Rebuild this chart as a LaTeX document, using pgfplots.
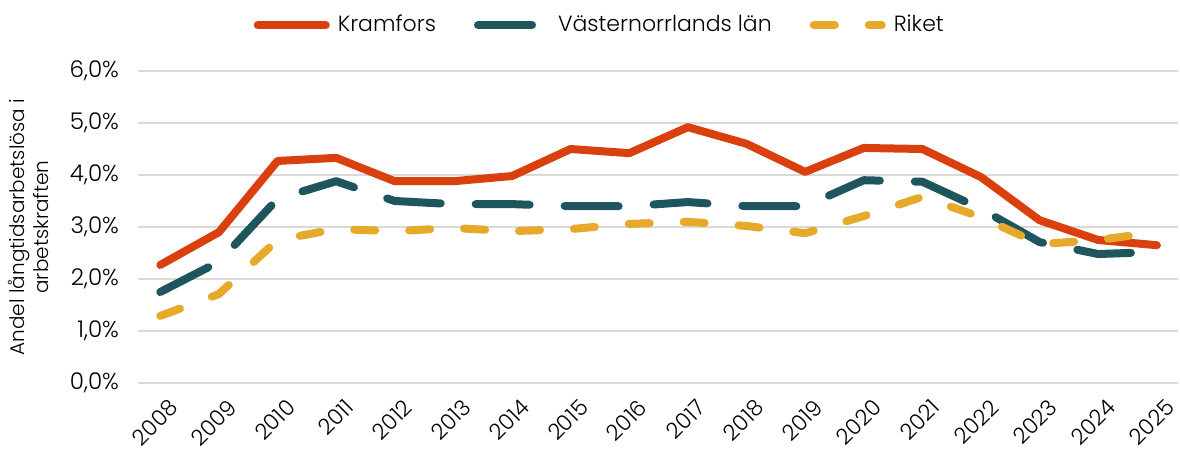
\documentclass[border=0pt]{standalone}
\usepackage{pgfplots}
\pgfplotsset{compat=1.18}
\usepackage{fontspec}
\setmainfont{Poppins}[UprightFont={* Light}]
\definecolor{kram}{HTML}{D9400E}
\definecolor{vast}{HTML}{1F555C}
\definecolor{rike}{HTML}{E6A92A}
\begin{document}
\begin{tikzpicture}
\useasboundingbox (-69pt,-33.5pt) rectangle (521pt,191.5pt);
\begin{axis}[
  scale only axis, width=520pt, height=156pt,
  at={(0,0)}, anchor=south west,
  xmin=2007.62, xmax=2025.36, ymin=0, ymax=6,
  xtick={2008,...,2025},
  xticklabel={\pgfmathprintnumber[/pgf/number format/.cd,set thousands separator={},assume math mode=true]{\tick}},
  xticklabel style={rotate=45, anchor=north east, font=\fontsize{11}{13}\selectfont, xshift=1pt, yshift=-4.5pt},
  ytick={0,1,...,6},
  yticklabel={\pgfmathprintnumber[/pgf/number format/.cd,fixed,fixed zerofill,precision=1,use comma,assume math mode=true]{\tick}\%},
  yticklabel style={font=\fontsize{11.5}{13}\selectfont, xshift=-6pt},
  ymajorgrids, grid style={draw=black!15, line width=0.8pt},
  axis line style={draw=none}, major tick length=0pt,
  axis x line*=bottom, axis y line*=left,
  ylabel={Andel långtidsarbetslösa i\\arbetskraften},
  ylabel style={align=center, anchor=center, font=\fontsize{10}{12}\selectfont, at={(axis description cs:-0.105,0.5)}},
  legend style={at={(axis description cs:0.445,1.147)}, anchor=center, draw=none, legend columns=3,
    font=\fontsize{11}{13}\selectfont, column sep=2pt, /tikz/every even column/.append style={column sep=17pt}},
  legend image code/.code={\draw[#1, line cap=round] (0pt,0pt) -- (34pt,0pt);},
  line join=round,
]
\addplot[kram, line width=4pt, line cap=round] coordinates {
(2008,2.27)(2009,2.90)(2010,4.27)(2011,4.33)(2012,3.88)(2013,3.88)(2014,3.98)(2015,4.50)(2016,4.42)
(2017,4.92)(2018,4.60)(2019,4.06)(2020,4.52)(2021,4.50)(2022,3.96)(2023,3.13)(2024,2.75)(2025,2.65)};
\addlegendentry{Kramfors}
\addplot[vast, line width=4pt, line cap=round, dash pattern=on 27pt off 17.5pt] coordinates {
(2008,1.75)(2009,2.33)(2010,3.54)(2011,3.88)(2012,3.50)(2013,3.44)(2014,3.44)(2015,3.40)(2016,3.40)
(2017,3.48)(2018,3.40)(2019,3.40)(2020,3.90)(2021,3.87)(2022,3.35)(2023,2.71)(2024,2.48)(2025,2.52)};
\addlegendentry{Västernorrlands län}
\addplot[rike, line width=4pt, line cap=round, dash pattern=on 10.5pt off 17pt] coordinates {
(2008,1.29)(2009,1.71)(2010,2.75)(2011,2.96)(2012,2.92)(2013,2.98)(2014,2.92)(2015,2.96)(2016,3.06)
(2017,3.10)(2018,3.02)(2019,2.88)(2020,3.21)(2021,3.58)(2022,3.19)(2023,2.67)(2024,2.75)(2025,2.90)};
\addlegendentry{Riket}
\end{axis}
\end{tikzpicture}
\end{document}
